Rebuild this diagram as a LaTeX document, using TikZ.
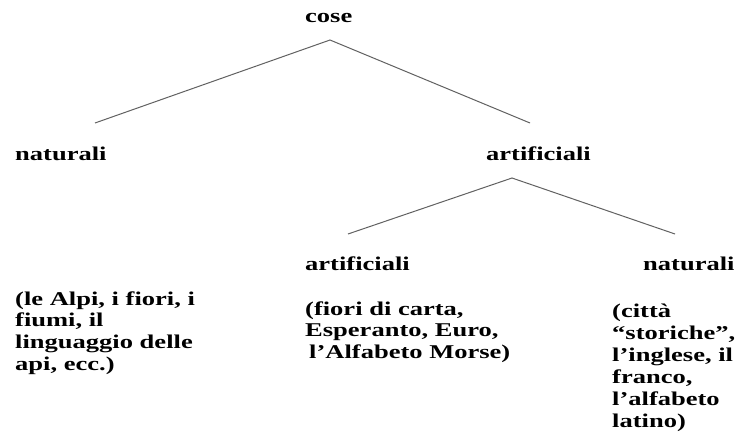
\documentclass[tikz,border=0pt]{standalone}
\usepackage{fontspec}
\newfontfamily\tnr[FakeStretch=1.36]{Liberation Serif}
\begin{document}
\begin{tikzpicture}[x=1pt,y=-1pt,
  lbl/.style={anchor=base west,inner sep=0pt,font=\tnr\bfseries\fontsize{19.5}{21.8}\selectfont},
  para/.style={lbl,align=left},
  branch/.style={draw=black!62,line width=1pt}]
\useasboundingbox[fill=white] (0,0) rectangle (736,439);
% labels
\node[lbl] (cose) at (305,22) {cose};
\node[lbl] (natA) at (15,160) {naturali};
\node[lbl] (artA) at (486,160) {artificiali};
\node[lbl] (artB) at (305,270) {artificiali};
\node[lbl] (natB) at (643,270) {naturali};
% multi-line texts: base anchor is the baseline of the last line
\node[para] (exA) at (15,370.4) {(le Alpi, i fiori, i\\fiumi, il\\linguaggio delle\\api, ecc.)};
\node[para] (exB) at (305,358.6) {(fiori di carta,\\Esperanto, Euro,\\\hspace{4pt}l’Alfabeto Morse)};
\node[para,font=\tnr\bfseries\fontsize{19.5}{22}\selectfont] (exC) at (612,427) {(città\\“storiche”,\\l’inglese, il\\franco,\\l’alfabeto\\latino)};
% branch points
\coordinate (top) at (330,40);
\coordinate (topL) at (95,123);
\coordinate (topR) at (530,123);
\coordinate (mid) at (512,178);
\coordinate (midL) at (348,234);
\coordinate (midR) at (675,234);
\draw[branch] (topL) -- (top) -- (topR);
\draw[branch] (midL) -- (mid) -- (midR);
\end{tikzpicture}
\end{document}
